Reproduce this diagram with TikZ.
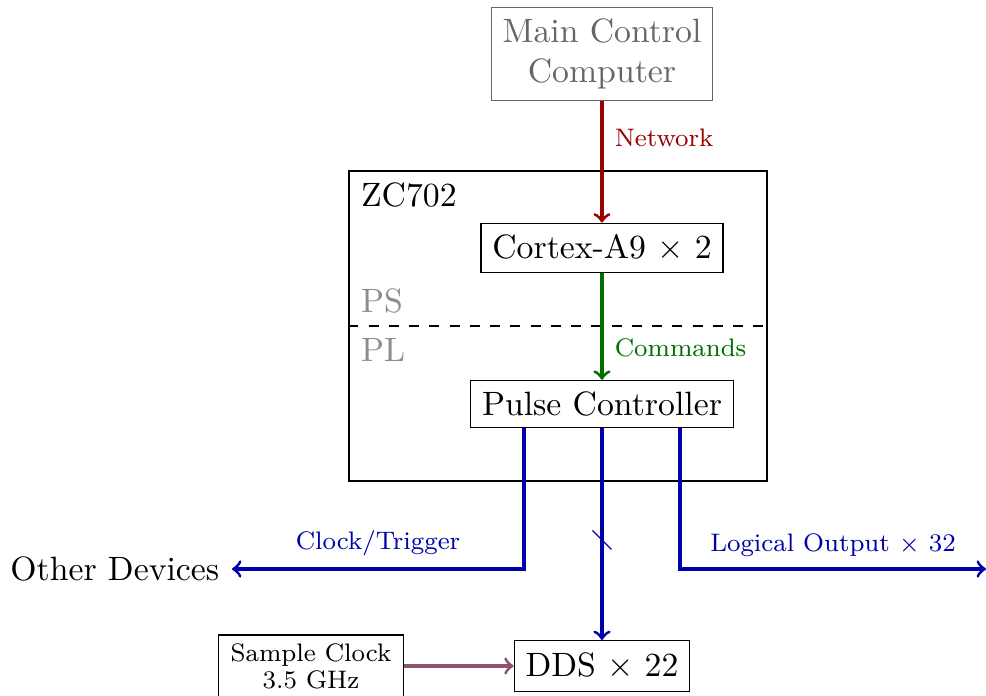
\documentclass[tikz,border=0pt]{standalone}
\usepackage{amsmath}
\definecolor{netred}{RGB}{153,0,0}
\definecolor{cmdgreen}{RGB}{0,110,0}
\definecolor{busblue}{RGB}{0,0,170}
\definecolor{clkmauve}{RGB}{140,82,112}
\begin{document}
\begin{tikzpicture}[x=0.2963pt, y=-0.2963pt, line width=0.9pt,
    box/.style = {draw, thin},
    lbl/.style = {font=\fontsize{7.5pt}{8pt}\selectfont}]
    % pixel-like coordinates, y grows downwards
    \useasboundingbox (0,0) rectangle (986,696);

    % boxes
    \node[box, draw=black!60, text=black!60, align=center] (mcc) at (602,54) {Main Control\\Computer};
    \node[box, minimum width=123.85pt, minimum height=91.85pt] (zc) at (558,326) {};
    \node[anchor=north west] (zcname) at (zc.north west) {ZC702};
    \node[anchor=south west, text=black!45] (ps) at (zc.west) {PS};
    \node[anchor=north west, text=black!45] (pl) at (zc.west) {PL};
    \draw[thin, dashed] (zc.west) -- (zc.east);
    \node[box] (cortex) at (602,248) {Cortex-A9 $\times$ 2};
    \node[box] (pulse) at (602,404) {Pulse Controller};
    \node[box, minimum height=15pt] (dds) at (602,666) {DDS $\times$ 22};
    \node[box, lbl, align=center, inner sep=2.5pt, minimum width=55pt] (sclk) at (311,666) {Sample Clock\\3.5 GHz};
    \node[anchor=east] (other) at (232,569) {Other Devices};
    \coordinate (logic) at (986,569);
    \coordinate (busmark) at (602,540);

    % connections
    \draw[->, netred] (mcc) -- node[right, lbl, pos=0.3] {Network} (cortex);
    \draw[->, cmdgreen] (cortex) -- node[right, lbl, pos=0.7] {Commands} (pulse);
    \draw[->, busblue] (pulse.south) ++(-78,0) |- node[above, lbl, pos=0.75] {Clock/Trigger} (other);
    \draw[->, busblue] (pulse.south) ++(78,0) |- node[above, lbl, pos=0.75] {Logical Output $\times$ 32} (logic);
    \draw[->, busblue] (pulse) -- (dds);
    \draw[thin, busblue] ([shift={(-9.5,-9.5)}]busmark) -- ([shift={(9.5,9.5)}]busmark);
    \draw[->, clkmauve] (sclk) -- (dds);

\end{tikzpicture}
\end{document}
